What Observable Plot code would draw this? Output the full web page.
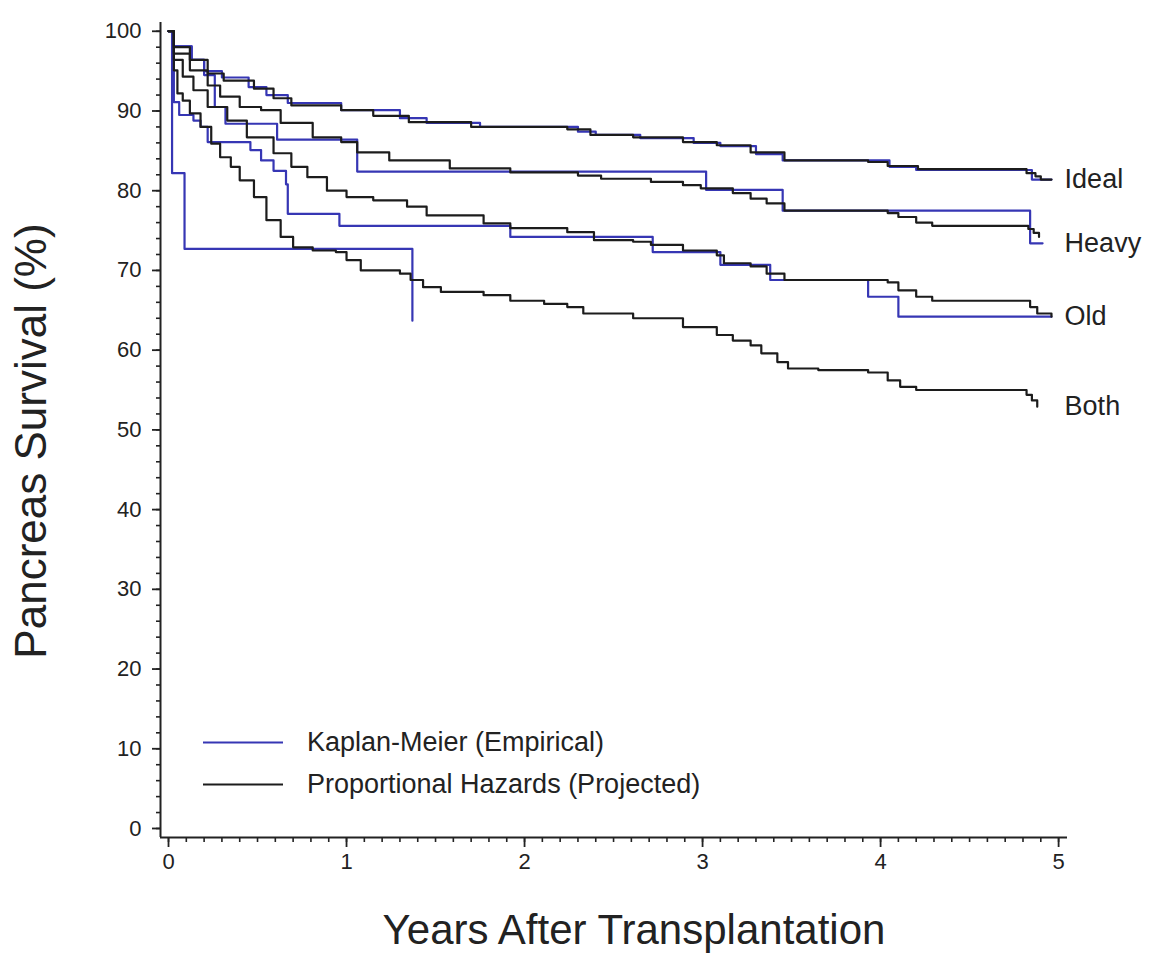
<!DOCTYPE html>
<html><head><meta charset="utf-8">
<script src="https://cdn.jsdelivr.net/npm/d3@7"></script>
<script src="https://cdn.jsdelivr.net/npm/@observablehq/plot@0.6"></script>
<style>
body{margin:0;background:#fff;font-family:"Liberation Sans",Arial,Helvetica,sans-serif;color:#222;}
#wrap{position:relative;width:1149px;height:953px;overflow:hidden;}
#chart svg{display:block;}
.ytitle{position:absolute;left:31px;top:441px;transform:translate(-50%,-50%) rotate(-90deg);font-size:44px;line-height:1;white-space:nowrap;}
.xtitle{position:absolute;left:634px;top:930px;transform:translate(-50%,-50%);font-size:42px;line-height:1;white-space:nowrap;}
.leg{position:absolute;left:203px;display:flex;align-items:center;font-size:27px;line-height:1;white-space:nowrap;transform:translateY(-50%);}
.leg .sw{width:80px;height:0;border-top:2.4px solid;margin-right:24px;}
</style>
</head><body>
<div id="wrap">
  <div id="chart"></div>
  <div class="ytitle">Pancreas Survival (%)</div>
  <div class="xtitle">Years After Transplantation</div>
  <div class="leg" style="top:742px"><span class="sw" style="border-color:#3636b4"></span>Kaplan-Meier (Empirical)</div>
  <div class="leg" style="top:784px"><span class="sw" style="border-color:#1c1c1c"></span>Proportional Hazards (Projected)</div>
</div>
<script>
// ---- data: [years, survival %] ----
const groups = ["Ideal", "Heavy", "Old", "Both"];

const idealKM = [[0,100],[0.03,98.1],[0.13,96.4],[0.2,95.0],[0.3,94.2],[0.45,93.0],[0.55,92.0],[0.67,91.0],[0.97,90.1],[1.3,89.1],[1.45,88.5],[1.75,88.0],[2.3,87.4],[2.4,87.0],[2.65,86.6],[2.95,86.0],[3.1,85.6],[3.3,84.6],[3.45,83.8],[4.05,83.0],[4.2,82.6],[4.85,81.4],[4.96,81.4]];
const heavyKM = [[0,100],[0.03,98.1],[0.13,96.4],[0.2,94.5],[0.26,90.5],[0.32,88.4],[0.61,86.4],[1.06,82.4],[3.02,80.1],[3.45,77.5],[4.84,73.4],[4.91,73.4]];
const oldKM   = [[0,100],[0.03,91.1],[0.06,89.5],[0.14,88.8],[0.18,88.0],[0.22,86.1],[0.46,85.1],[0.52,83.8],[0.59,82.5],[0.66,80.8],[0.67,77.1],[0.96,75.6],[1.92,74.2],[2.72,72.3],[3.1,70.7],[3.38,68.8],[3.93,66.7],[4.1,64.2],[4.96,64.2]];
const bothKM  = [[0,100],[0.02,82.2],[0.09,72.7],[1.37,63.7]];

const idealPH = [[0,100],[0.03,98],[0.12,96.4],[0.22,94.7],[0.31,93.8],[0.48,92.8],[0.59,91.6],[0.69,90.7],[0.97,90.1],[1.15,89.4],[1.35,88.6],[1.7,88.0],[2.24,87.7],[2.37,87.0],[2.61,86.7],[2.89,86.1],[3.08,85.7],[3.27,84.8],[3.46,83.8],[3.93,83.6],[4.04,83.1],[4.21,82.7],[4.82,82.2],[4.87,81.8],[4.9,81.4],[4.96,81.4]];
const heavyPH = [[0,100],[0.03,97.2],[0.12,95.1],[0.22,93.2],[0.29,91.8],[0.4,90.5],[0.52,90.1],[0.63,88.5],[0.81,86.7],[0.97,86.1],[1.06,84.8],[1.24,83.8],[1.58,82.8],[1.92,82.3],[2.3,81.9],[2.43,81.5],[2.71,81.1],[2.89,80.7],[2.99,80.3],[3.17,79.7],[3.27,79.0],[3.36,78.4],[3.46,77.5],[4.04,77.2],[4.1,76.7],[4.2,76.0],[4.29,75.6],[4.83,75.2],[4.86,74.7],[4.89,74.2]];
const oldPH   = [[0,100],[0.03,96.4],[0.08,94.3],[0.14,92.6],[0.22,90.5],[0.33,88.8],[0.44,86.7],[0.59,84.7],[0.69,83.0],[0.78,81.7],[0.89,80.0],[1.0,79.2],[1.15,78.8],[1.34,78.0],[1.45,76.9],[1.77,75.9],[1.92,75.3],[2.24,74.8],[2.39,73.8],[2.61,73.6],[2.71,73.2],[2.89,72.5],[3.08,71.9],[3.12,70.9],[3.27,70.5],[3.36,69.6],[3.46,68.8],[4.04,68.5],[4.1,67.5],[4.2,66.7],[4.29,66.2],[4.8,66.2],[4.84,65.4],[4.88,64.6],[4.96,64.2]];
const bothPH  = [[0,100],[0.03,95.1],[0.05,92.2],[0.08,91.3],[0.12,89.7],[0.18,88.0],[0.24,85.9],[0.29,84.2],[0.35,83.0],[0.4,81.3],[0.48,79.2],[0.55,76.3],[0.63,74.2],[0.7,72.9],[0.81,72.5],[0.94,72.3],[1.0,71.3],[1.08,70.0],[1.3,69.6],[1.36,68.8],[1.43,67.9],[1.53,67.3],[1.77,66.9],[1.92,66.2],[2.11,65.8],[2.24,65.4],[2.33,64.6],[2.61,64.0],[2.89,62.9],[3.08,61.9],[3.17,61.2],[3.27,60.6],[3.33,59.6],[3.42,58.5],[3.48,57.7],[3.65,57.5],[3.93,57.2],[4.04,56.2],[4.11,55.4],[4.2,55.0],[4.79,55.0],[4.82,54.4],[4.85,53.7],[4.88,52.9]];

const xTicks = [0, 1, 2, 3, 4, 5];
const yTicks = [0, 10, 20, 30, 40, 50, 60, 70, 80, 90, 100];

// ---- build tables ----
const kmSeries = {Ideal: idealKM, Heavy: heavyKM, Old: oldKM, Both: bothKM};
const phSeries = {Ideal: idealPH, Heavy: heavyPH, Old: oldPH, Both: bothPH};
const toRows = (obj) => groups.flatMap(g => obj[g].map(([t, s]) => ({group: g, t, s})));
const kmRows = toRows(kmSeries);
const phRows = toRows(phSeries);

// group label positioned at the lowest final value among series reaching the end
const xMax = xTicks[xTicks.length - 1];
const labelRows = groups.map(g => {
  const ends = [kmSeries[g], phSeries[g]].map(a => a[a.length - 1]).filter(p => p[0] > xMax - 0.5);
  return {group: g, t: xMax, s: d3.min(ends, p => p[1])};
});

const BLUE = "#3636b4", BLACK = "#1c1c1c", AXIS = "#222";
const xDomain = [-0.045, 5.05], yDomain = [-1.13, 101.1];

const chart = Plot.plot({
  width: 1149, height: 953,
  marginLeft: 160, marginRight: 82, marginTop: 22, marginBottom: 116,
  style: {fontFamily: '"Liberation Sans", Arial, sans-serif', color: AXIS, background: "#fff"},
  x: {domain: xDomain, axis: null},
  y: {domain: yDomain, axis: null},
  marks: [
    Plot.ruleX([xDomain[0]], {stroke: AXIS, strokeWidth: 2}),
    Plot.ruleY([yDomain[0]], {stroke: AXIS, strokeWidth: 2}),
    Plot.axisY({ticks: d3.range(0, 100.1, 2), tickSize: 4, tickFormat: () => "", label: null, strokeWidth: 1.6}),
    Plot.axisY({ticks: yTicks, tickSize: 8, tickPadding: 11, fontSize: 22, tickFormat: d => String(d), label: null, strokeWidth: 1.8}),
    Plot.axisX({ticks: d3.range(0, 5.001, 0.1), tickSize: 5, tickFormat: () => "", label: null, strokeWidth: 1.6}),
    Plot.axisX({ticks: xTicks, tickSize: 10, tickPadding: 6, fontSize: 22, tickFormat: d => String(d), label: null, strokeWidth: 1.8}),
    Plot.line(kmRows, {x: "t", y: "s", z: "group", stroke: BLUE, strokeWidth: 2.2, curve: "step-after"}),
    Plot.line(phRows, {x: "t", y: "s", z: "group", stroke: BLACK, strokeWidth: 2.2, curve: "step-after"}),
    Plot.text(labelRows, {x: "t", y: "s", text: "group", textAnchor: "start", dx: 6, fontSize: 27, fill: AXIS})
  ]
});
document.getElementById("chart").appendChild(chart);
</script>
</body></html>
